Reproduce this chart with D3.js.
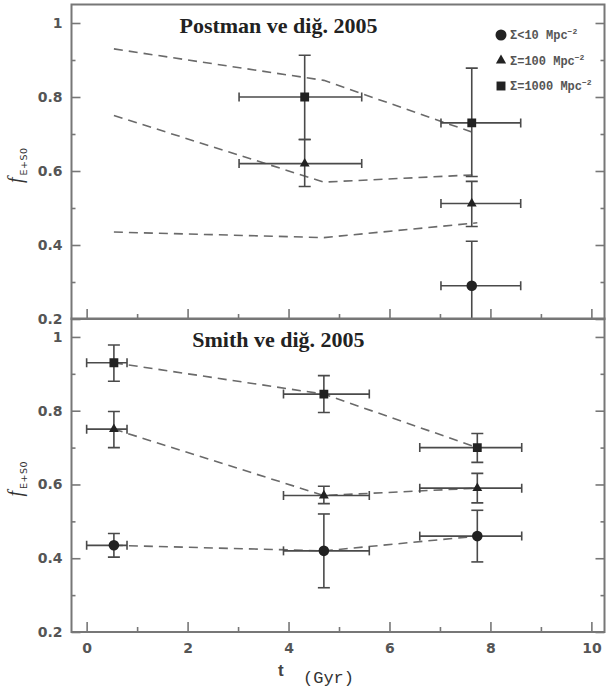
<!DOCTYPE html>
<html>
<head>
<meta charset="utf-8">
<script src="https://cdn.jsdelivr.net/npm/d3@7"></script>
<style>
  html, body { margin: 0; padding: 0; background: #fff; }
  svg { display: block; }
</style>
</head>
<body>
<svg id="chart" width="606" height="693"></svg>
<script>
// ---- data: early-type fraction vs look-back time ----
// Smith et al. 2005 bins (look-back time, Gyr)
const smithT    = [0.54, 4.70, 7.74];
const smithTLo  = [0.00, 3.90, 6.60];
const smithTHi  = [0.80, 5.60, 8.62];
// Sigma = 1000 Mpc^-2
const smithHigh   = [0.930, 0.845, 0.700];
const smithHighUp = [0.978, 0.895, 0.738];
const smithHighDn = [0.880, 0.795, 0.660];
// Sigma = 100 Mpc^-2
const smithMid    = [0.750, 0.570, 0.590];
const smithMidUp  = [0.798, 0.595, 0.630];
const smithMidDn  = [0.700, 0.548, 0.550];
// Sigma < 10 Mpc^-2
const smithLow    = [0.435, 0.420, 0.460];
const smithLowUp  = [0.467, 0.520, 0.530];
const smithLowDn  = [0.403, 0.320, 0.390];

// Postman et al. 2005 bins
const postmanT   = [4.32, 7.63];
const postmanTLo = [3.02, 7.02];
const postmanTHi = [5.45, 8.60];
const postmanHigh   = [0.800, 0.730];
const postmanHighUp = [0.913, 0.878];
const postmanHighDn = [0.685, 0.585];
const postmanMid    = [0.620, 0.512];
const postmanMidUp  = [0.685, 0.572];
const postmanMidDn  = [0.558, 0.450];
const postmanLow    = [null, 0.290];
const postmanLowUp  = [null, 0.410];
const postmanLowDn  = [null, 0.170];

// axes
const xMajor = [0, 2, 4, 6, 8, 10];
const xMajorLabels = ["0", "2", "4", "6", "8", "10"];
const xMinor = [1, 3, 5, 7, 9];
const yMajor = [0.2, 0.4, 0.6, 0.8, 1.0];
const yMajorLabels = ["0.2", "0.4", "0.6", "0.8", "1"];
const yMinor = [0.3, 0.5, 0.7, 0.9];

const legendLabels = ["Σ<10 Mpc", "Σ=100 Mpc", "Σ=1000 Mpc"];
const legendSup = "−2";
const panelTitles = ["Postman ve diğ. 2005", "Smith ve diğ. 2005"];

// ---- layout ----
const svg = d3.select("#chart");
const left = 71.5, right = 604.5;
const panels = [
  { top: 4.5, bottom: 319 },
  { top: 318.5, bottom: 632 }
];
const x = d3.scaleLinear().domain([-0.3, 10.26]).range([left, right]);

const frameColor = "#777";
const tickFont = "'DejaVu Sans', sans-serif";
const ink = "#222";

// build series objects for one source
function series(t, tlo, thi, v, up, dn) {
  return t.map((tt, i) => ({ t: tt, tlo: tlo[i], thi: thi[i], v: v[i], up: up[i], dn: dn[i] }))
          .filter(d => d.v !== null);
}
const smith = [
  { shape: d3.symbolCircle,   size: 88, pts: series(smithT, smithTLo, smithTHi, smithLow, smithLowUp, smithLowDn) },
  { shape: d3.symbolTriangle, size: 42, pts: series(smithT, smithTLo, smithTHi, smithMid, smithMidUp, smithMidDn) },
  { shape: d3.symbolSquare,   size: 78, pts: series(smithT, smithTLo, smithTHi, smithHigh, smithHighUp, smithHighDn) }
];
const postman = [
  { shape: d3.symbolCircle,   size: 88, pts: series(postmanT, postmanTLo, postmanTHi, postmanLow, postmanLowUp, postmanLowDn) },
  { shape: d3.symbolTriangle, size: 42, pts: series(postmanT, postmanTLo, postmanTHi, postmanMid, postmanMidUp, postmanMidDn) },
  { shape: d3.symbolSquare,   size: 78, pts: series(postmanT, postmanTLo, postmanTHi, postmanHigh, postmanHighUp, postmanHighDn) }
];

function drawPanel(idx, data, showXLabels) {
  const p = panels[idx];
  const y = d3.scaleLinear().domain([0.2, 1.05]).range([p.bottom, p.top]);
  const g = svg.append("g");

  const clipId = "clip" + idx;
  svg.append("defs").append("clipPath").attr("id", clipId)
    .append("rect").attr("x", left).attr("y", p.top)
    .attr("width", right - left).attr("height", p.bottom - p.top);

  // left axis: inward ticks, labels outside
  g.append("g").attr("transform", `translate(${left},0)`)
    .call(d3.axisLeft(y).tickValues(yMajor).tickSize(-9).tickPadding(9)
      .tickFormat((d, i) => yMajorLabels[i]));
  g.append("g").attr("transform", `translate(${left},0)`)
    .call(d3.axisLeft(y).tickValues(yMinor).tickSize(-4).tickFormat(""));
  // right axis: inward ticks only
  g.append("g").attr("transform", `translate(${right},0)`)
    .call(d3.axisRight(y).tickValues(yMajor).tickSize(-9).tickFormat(""));
  g.append("g").attr("transform", `translate(${right},0)`)
    .call(d3.axisRight(y).tickValues(yMinor).tickSize(-4).tickFormat(""));
  // bottom axis: upward ticks
  g.append("g").attr("transform", `translate(0,${p.bottom})`)
    .call(d3.axisBottom(x).tickValues(xMajor).tickSize(-10).tickPadding(11)
      .tickFormat((d, i) => showXLabels ? xMajorLabels[i] : ""));
  g.append("g").attr("transform", `translate(0,${p.bottom})`)
    .call(d3.axisBottom(x).tickValues(xMinor).tickSize(-5).tickFormat(""));

  g.selectAll(".domain").remove();
  g.selectAll(".tick line").attr("stroke", frameColor).attr("stroke-width", 1.6);
  g.selectAll(".tick text").attr("fill", "#555").attr("font-family", tickFont)
    .attr("font-weight", "bold").attr("font-size", 14);

  // frame
  g.append("rect").attr("x", left).attr("y", p.top)
    .attr("width", right - left).attr("height", p.bottom - p.top)
    .attr("fill", "none").attr("stroke", frameColor).attr("stroke-width", 2);

  const plot = g.append("g").attr("clip-path", `url(#${clipId})`);

  // dashed trend lines through the Smith et al. points
  const line = d3.line().x(d => x(d.t)).y(d => y(d.v));
  smith.forEach(s => {
    plot.append("path").datum(s.pts).attr("d", line)
      .attr("fill", "none").attr("stroke", "#6a6a6a").attr("stroke-width", 1.6)
      .attr("stroke-dasharray", "9,6");
  });

  // error bars and markers
  data.forEach(s => {
    s.pts.forEach(d => {
      const eb = plot.append("g").attr("stroke", "#4a4a4a").attr("stroke-width", 1.6).attr("fill", "none");
      eb.append("line").attr("x1", x(d.tlo)).attr("x2", x(d.thi)).attr("y1", y(d.v)).attr("y2", y(d.v));
      eb.append("line").attr("x1", x(d.t)).attr("x2", x(d.t)).attr("y1", y(d.up)).attr("y2", y(d.dn));
      [d.tlo, d.thi].forEach(tv => eb.append("line")
        .attr("x1", x(tv)).attr("x2", x(tv)).attr("y1", y(d.v) - 4.5).attr("y2", y(d.v) + 4.5));
      [d.up, d.dn].forEach(vv => eb.append("line")
        .attr("x1", x(d.t) - 6).attr("x2", x(d.t) + 6).attr("y1", y(vv)).attr("y2", y(vv)));
      plot.append("path").attr("d", d3.symbol().type(s.shape).size(s.size)())
        .attr("transform", `translate(${x(d.t)},${y(d.v)})`)
        .attr("fill", ink);
    });
  });

  // panel title
  g.append("text").attr("x", x(3.8)).attr("y", y(1.0) + 10)
    .attr("text-anchor", "middle").attr("font-family", "'Liberation Serif', 'Times New Roman', serif")
    .attr("font-weight", "bold").attr("font-size", 22).attr("fill", ink)
    .text(panelTitles[idx]);

  // y-axis label: f_{E+S0}
  const lab = g.append("text")
    .attr("transform", `translate(22,${y(0.6) + 12}) rotate(-90)`)
    .attr("font-family", "'Liberation Serif', serif").attr("fill", "#333");
  lab.append("tspan").attr("font-size", 20).attr("font-style", "italic").text("f");
  lab.append("tspan").attr("font-family", tickFont).attr("font-size", 9.5)
    .attr("dy", 5).attr("dx", 2).attr("letter-spacing", 0.5).text("E+S0");

  return y;
}

drawPanel(0, postman, false);
drawPanel(1, smith, true);

// legend in the upper panel
const legShapes = [d3.symbolCircle, d3.symbolTriangle, d3.symbolSquare];
const legSizes = [95, 45, 80];
const leg = svg.append("g").attr("transform", "translate(501,35)");
legendLabels.forEach((lbl, i) => {
  const row = leg.append("g").attr("transform", `translate(0,${i * 25.5})`);
  row.append("path").attr("d", d3.symbol().type(legShapes[i]).size(legSizes[i])())
    .attr("fill", ink);
  const t = row.append("text").attr("x", 9).attr("y", 4)
    .attr("font-family", "'Liberation Mono', 'Courier New', monospace")
    .attr("font-size", 12).attr("font-weight", "bold").attr("fill", "#555");
  t.append("tspan").text(lbl);
  t.append("tspan").attr("dy", -5).attr("font-size", 8).text(legendSup);
});

// x-axis title
const xt = svg.append("text").attr("x", 278).attr("y", 676).attr("fill", "#444");
xt.append("tspan").attr("font-family", "'Liberation Sans', sans-serif").attr("font-weight", "bold")
  .attr("font-size", 17).text("t");
xt.append("tspan").attr("x", 303).attr("y", 683)
  .attr("font-family", "'Liberation Mono', 'Courier New', monospace")
  .attr("font-size", 17).attr("fill", "#333").text("(Gyr)");
</script>
</body>
</html>
